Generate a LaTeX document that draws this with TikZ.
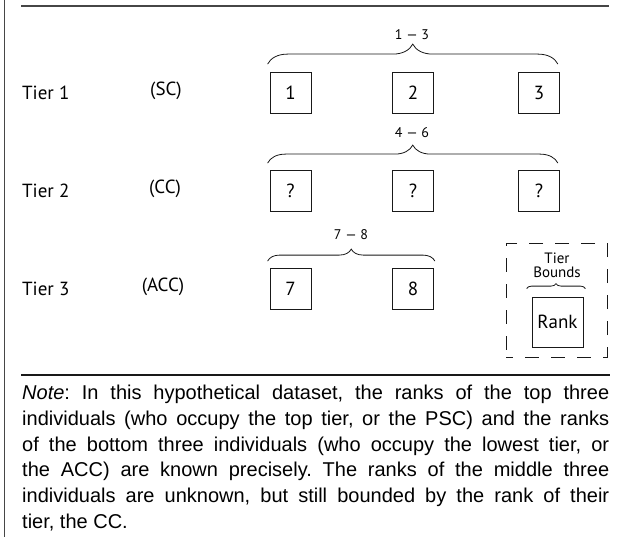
\documentclass[tikz,border=0pt]{standalone}
\usepackage{fontspec}
\setmainfont{Liberation Sans}
\newfontfamily\diagfont{PT Sans}
\usetikzlibrary{positioning,decorations.pathreplacing}
\definecolor{rulegray}{RGB}{70,70,70}
\definecolor{lineblack}{RGB}{25,25,25}
\frenchspacing

\begin{document}
\begin{tikzpicture}[
  x=1pt, y=1pt,
  rankbox/.style={rectangle, draw=lineblack, minimum width=41pt, minimum height=41pt, inner sep=0pt, font=\diagfont\fontsize{19}{22}\selectfont, line width=0.8pt},
  tiername/.style={anchor=west, inner sep=0pt, font=\diagfont\fontsize{19}{22}\selectfont},
  groupname/.style={inner sep=0pt, font=\diagfont\fontsize{19}{22}\selectfont},
  bracestyle/.style={decorate, decoration={brace, amplitude=#1}, line width=0.8pt, draw=lineblack},
  spanlabel/.style={inner sep=0pt, font=\diagfont\fontsize{14}{16}\selectfont},
  rulestyle/.style={draw=rulegray, line width=1.3pt},
  notetext/.style={inner sep=0pt, text width=587pt, align=justify, font=\fontsize{20}{25.7}\selectfont}
]
\useasboundingbox (0,0) rectangle (620,-537);

% frame rules
\draw[rulestyle] (4.5,0) -- (4.5,-537);
\draw[rulestyle] (21,-6) -- (609,-6);
\draw[rulestyle, draw=lineblack] (21,-375) -- (610,-375);

% tier names
\node[tiername] (n1) at (22,-93) {Tier 1};
\node[tiername] (n2) at (22,-191) {Tier 2};
\node[tiername] (n3) at (22,-289) {Tier 3};
\node[groupname] (g1) at (166,-91) {(SC)};
\node[groupname] (g2) at (165,-189) {(CC)};
\node[groupname] (g3) at (163,-287) {(ACC)};

% ranks
\node[rankbox] (b11) at (290.5,-93) {1};
\node[rankbox] (b12) at (413,-93) {2};
\node[rankbox] (b13) at (539,-93) {3};
\node[rankbox] (b21) at (290.5,-191) {?};
\node[rankbox] (b22) at (413,-191) {?};
\node[rankbox] (b23) at (539,-191) {?};
\node[rankbox] (b31) at (290.5,-289) {7};
\node[rankbox] (b32) at (413,-289) {8};

% bounds of each tier
\draw[bracestyle=20] ([shift={(-2pt,8pt)}]b11.north west) -- ([shift={(-2pt,8pt)}]b13.north east);
\draw[bracestyle=18] ([shift={(-2pt,7pt)}]b21.north west) -- ([shift={(-2pt,7pt)}]b23.north east);
\draw[bracestyle=12] ([shift={(-2pt,7pt)}]b31.north west) -- ([shift={(1pt,7pt)}]b32.north east);
\node[spanlabel] (s1) at (412,-35) {1 — 3};
\node[spanlabel] (s2) at (412,-133) {4 — 6};
\node[spanlabel] (s3) at (351,-235) {7 — 8};

% legend
\node[draw=lineblack, dash pattern=on 14pt off 12pt, dash phase=7pt, line width=0.8pt, minimum width=101pt, minimum height=114pt] (legend) at (556.5,-300) {};
\node[rankbox, minimum width=51pt, minimum height=50pt] (rank) at (557.5,-322) {Rank};
\node[spanlabel, align=center, font=\diagfont\fontsize{15}{14}\selectfont] (tb) at (557,-265) {Tier\\Bounds};
\draw[bracestyle=5] ([shift={(-5pt,8pt)}]rank.north west) -- ([shift={(2pt,8pt)}]rank.north east);

% note
\node[notetext, anchor=north west] (note) at (22,-385) {\textit{Note}: In this hypothetical dataset, the ranks of the top three\linebreak
individuals (who occupy the top tier, or the PSC) and the ranks\linebreak
of the bottom three individuals (who occupy the lowest tier, or\linebreak
the ACC) are known precisely. The ranks of the middle three\linebreak
individuals are unknown, but still bounded by the rank of their\linebreak
tier, the CC.};
\end{tikzpicture}
\end{document}
